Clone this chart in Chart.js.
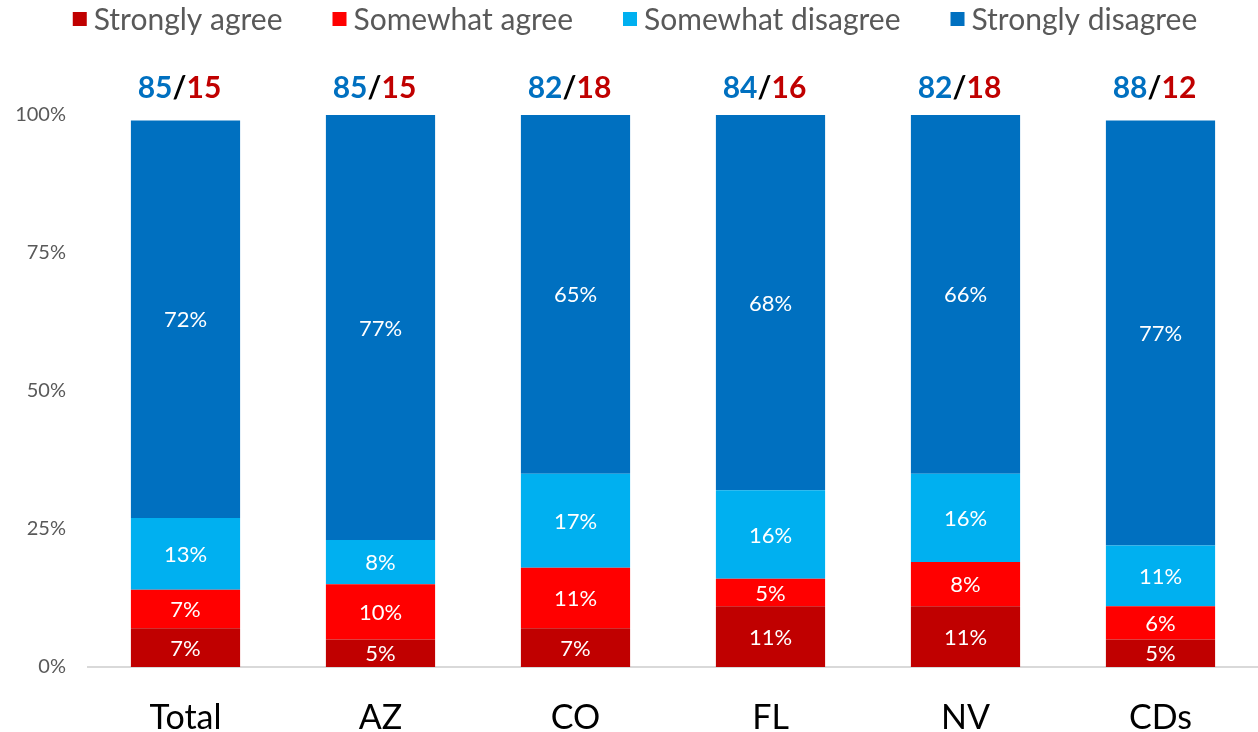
<!DOCTYPE html>
<html>
<head>
<meta charset="utf-8">
<script src="https://cdn.jsdelivr.net/npm/chart.js@4.4.1/dist/chart.umd.min.js"></script>
<style>
html,body{margin:0;padding:0;background:#fff;}
#wrap{width:1258px;height:732px;}
</style>
</head>
<body>
<div id="wrap"><canvas id="c" width="1258" height="732"></canvas></div>
<script>
const categories = ["Total", "AZ", "CO", "FL", "NV", "CDs"];
const stronglyAgree = [7, 5, 7, 11, 11, 5];
const somewhatAgree = [7, 10, 11, 5, 8, 6];
const somewhatDisagree = [13, 8, 17, 16, 16, 11];
const stronglyDisagree = [72, 77, 65, 68, 66, 77];
const totalDisagree = [85, 85, 82, 84, 82, 88];
const totalAgree = [15, 15, 18, 16, 18, 12];
const yTicks = [0, 25, 50, 75, 100];

const FONT = "Lato, 'Open Sans', sans-serif";

const customLegend = {
  id: 'customLegend',
  afterDraw(chart) {
    const ctx = chart.ctx;
    ctx.save();
    ctx.font = "30px " + FONT;
    ctx.textBaseline = "middle";
    ctx.textAlign = "left";
    const box = 14, gap = 7, itemGap = 50;
    const items = chart.data.datasets.map(ds => ({ text: ds.label, color: ds.backgroundColor, w: ctx.measureText(ds.label).width }));
    const total = items.reduce((a, it) => a + box + gap + it.w, 0) + itemGap * (items.length - 1);
    let x = chart.width / 2 - total / 2 + 6;
    const y = 19;
    items.forEach(it => {
      ctx.fillStyle = it.color;
      ctx.fillRect(x, y - box / 2, box, box);
      x += box + gap;
      ctx.fillStyle = "#595959";
      ctx.fillText(it.text, x, y + 1);
      x += it.w + itemGap;
    });
    ctx.restore();
  }
};

const segLabels = {
  id: 'segLabels',
  afterDatasetsDraw(chart) {
    const ctx = chart.ctx;
    ctx.save();
    ctx.font = "22px " + FONT;
    ctx.fillStyle = "#ffffff";
    ctx.textAlign = "center";
    ctx.textBaseline = "middle";
    chart.data.datasets.forEach((ds, di) => {
      const meta = chart.getDatasetMeta(di);
      meta.data.forEach((el, i) => {
        const top = Math.max(el.y, chart.chartArea.top);
        const cy = (top + el.base) / 2;
        ctx.fillText(ds.data[i] + "%", el.x, cy + 1);
      });
    });
    ctx.restore();
  }
};

const topLabels = {
  id: 'topLabels',
  afterDraw(chart) {
    const ctx = chart.ctx;
    const xs = chart.scales.x;
    ctx.save();
    ctx.font = "bold 30px " + FONT;
    ctx.textBaseline = "middle";
    ctx.textAlign = "left";
    categories.forEach((c, i) => {
      const x = xs.getPixelForValue(i) - 6;
      const a = String(totalDisagree[i]), s = "/", b = String(totalAgree[i]);
      const wa = ctx.measureText(a).width, ws = ctx.measureText(s).width, wb = ctx.measureText(b).width;
      let sx = x - (wa + ws + wb) / 2;
      const y = 88;
      ctx.fillStyle = "#0070C0"; ctx.fillText(a, sx, y); sx += wa;
      ctx.fillStyle = "#000000"; ctx.fillText(s, sx, y); sx += ws;
      ctx.fillStyle = "#C00000"; ctx.fillText(b, sx, y);
    });
    ctx.restore();
  }
};

new Chart(document.getElementById('c'), {
  type: 'bar',
  data: {
    labels: categories,
    datasets: [
      { label: "Strongly agree", data: stronglyAgree, backgroundColor: "#C00000" },
      { label: "Somewhat agree", data: somewhatAgree, backgroundColor: "#FF0000" },
      { label: "Somewhat disagree", data: somewhatDisagree, backgroundColor: "#00B0F0" },
      { label: "Strongly disagree", data: stronglyDisagree, backgroundColor: "#0070C0" }
    ]
  },
  options: {
    responsive: false,
    animation: false,
    layout: { padding: { top: 115, left: 0, right: 0, bottom: 0 } },
    datasets: { bar: { categoryPercentage: 1, barPercentage: 0.56, borderWidth: 0 } },
    plugins: {
      legend: { display: false },
      tooltip: { enabled: false }
    },
    scales: {
      x: {
        stacked: true,
        grid: { display: false },
        border: { display: true, color: "#D9D9D9", width: 2 },
        ticks: { font: { family: FONT, size: 34 }, color: "#000000", padding: 23 },
        afterFit(s) { s.height = 65; }
      },
      y: {
        stacked: true,
        min: 0,
        max: 100,
        grid: { display: false },
        border: { display: false },
        afterBuildTicks(s) { s.ticks = yTicks.map(v => ({ value: v })); },
        ticks: {
          font: { family: FONT, size: 20 },
          color: "#595959",
          padding: 14,
          callback: v => v + "%"
        },
        afterFit(s) { s.width = 88; }
      }
    }
  },
  plugins: [customLegend, segLabels, topLabels]
});
</script>
</body>
</html>
